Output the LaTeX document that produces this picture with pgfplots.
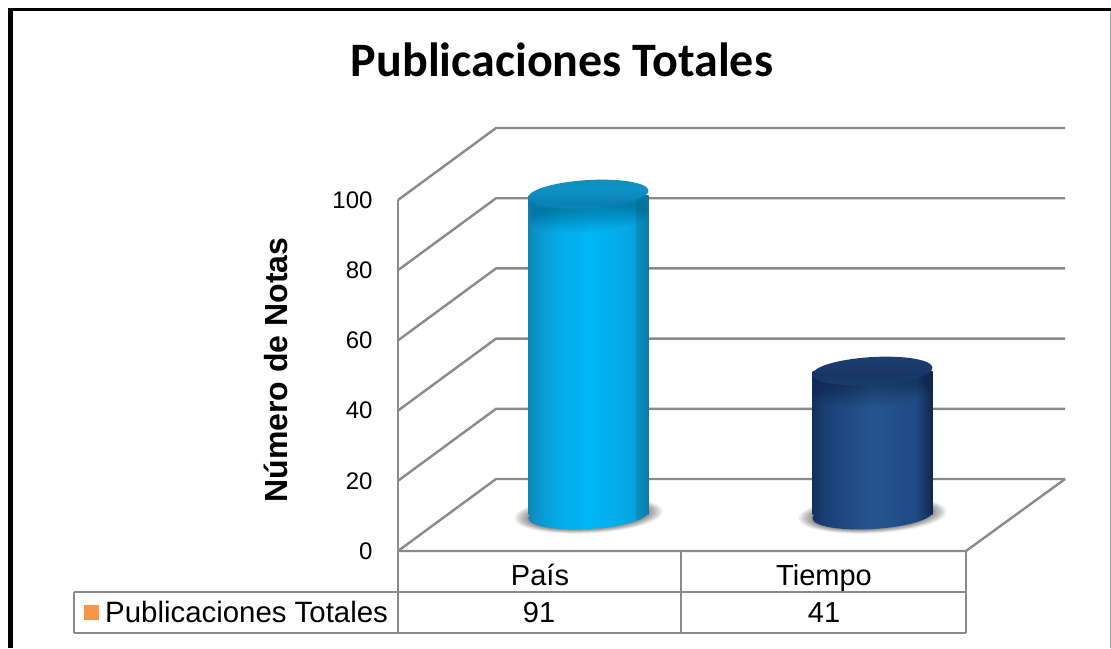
\documentclass[border=0pt]{standalone}
\usepackage{fontspec}
\setmainfont{Liberation Sans}
\newfontfamily\titlefont{Carlito}
\usepackage{pgfplots}
\pgfplotsset{compat=1.18}
\definecolor{gridg}{HTML}{8A8A8A}
\definecolor{swatch}{HTML}{F79646}
\definecolor{aa}{HTML}{0E86B8}\definecolor{ab}{HTML}{0B96CE}\definecolor{ac}{HTML}{04ACE8}\definecolor{ad}{HTML}{00B6F6}
\definecolor{ae}{HTML}{03ADEA}\definecolor{af}{HTML}{08A2DC}\definecolor{ag}{HTML}{0B8FC4}\definecolor{ah}{HTML}{0F7AA6}
\definecolor{ba}{HTML}{132F5E}\definecolor{bb}{HTML}{1A3F75}\definecolor{bc}{HTML}{25558F}\definecolor{bd}{HTML}{1F4A84}
\definecolor{be}{HTML}{173765}\definecolor{bf}{HTML}{11264F}
\definecolor{ta}{HTML}{0A86BC}\definecolor{tb}{HTML}{0A80B4}\definecolor{tc}{HTML}{0E93C8}\definecolor{td}{HTML}{178DB4}
\definecolor{ua}{HTML}{1A3C70}\definecolor{ub}{HTML}{173767}\definecolor{uc}{HTML}{1D3E70}
\pgfdeclarehorizontalshading{cylA}{100bp}{color(0bp)=(aa);color(25bp)=(aa);color(29bp)=(ab);color(38bp)=(ac);color(50bp)=(ad);color(62bp)=(ae);color(69bp)=(af);color(70bp)=(ag);color(75bp)=(ah);color(100bp)=(ah)}
\pgfdeclarehorizontalshading{cylB}{100bp}{color(0bp)=(ba);color(25bp)=(ba);color(30bp)=(bb);color(50bp)=(bc);color(68bp)=(bd);color(72bp)=(be);color(75bp)=(bf);color(100bp)=(bf)}
\pgfdeclareverticalshading{topA}{100bp}{color(0bp)=(ta);color(25bp)=(ta);color(35bp)=(tb);color(60bp)=(tc);color(75bp)=(td);color(100bp)=(td)}
\pgfdeclareverticalshading{topB}{100bp}{color(0bp)=(ua);color(25bp)=(ua);color(45bp)=(ub);color(75bp)=(uc);color(100bp)=(uc)}
% tilted ellipses as plot marks, placed at the data points
\newcommand{\tiltell}{\pgfpathellipse{\pgfpointorigin}{\pgfqpoint{60pt}{3.5pt}}{\pgfqpoint{-0.8pt}{14pt}}}
% soft darkening of the wall just below the top face
\newcommand{\topglow}{%
  \begin{pgfscope}\pgfsetfillopacity{0.025}\pgfsetfillcolor{black}%
  \foreach \d in {2,4,6,8,10,12,14,16,18,20,22}{%
    \begin{pgfscope}\pgftransformyshift{-\d pt}\tiltell\pgfusepath{fill}\end{pgfscope}}%
  \end{pgfscope}}
\pgfdeclareplotmark{topA}{\topglow\pgftransformyshift{1.5pt}\tiltell\pgfshadepath{topA}{0}\pgfusepath{discard}}
\pgfdeclareplotmark{topB}{\topglow\tiltell\pgfshadepath{topB}{0}\pgfusepath{discard}}
\pgfdeclareplotmark{baseA}{\tiltell\pgfshadepath{cylA}{0}\pgfusepath{discard}}
\pgfdeclareplotmark{baseB}{\tiltell\pgfshadepath{cylB}{0}\pgfusepath{discard}}
\pgfdeclareplotmark{shadow}{%
  \pgfsetfillopacity{0.065}\pgfsetfillcolor{black}%
  \foreach \r/\h in {74/18.5,72/17.5,70/17,68/16.5,66/16,64/15.5,62/15,61/14.5}{%
    \pgfpathellipse{\pgfqpoint{0pt}{0pt}}{\pgfqpoint{\r pt}{3.5pt}}{\pgfqpoint{-0.8pt}{\h pt}}\pgfusepath{fill}}}
\begin{document}
\begin{tikzpicture}
\path[use as bounding box,fill=white] (0,0) rectangle (1111pt,648pt);
\begin{axis}[
  at={(398pt,97pt)},anchor=south west,scale only axis,width=568pt,height=351pt,
  xmin=0,xmax=2,ymin=0,ymax=100,clip=false,
  axis x line=none,axis y line=left,
  axis line style={gridg,line width=2.4pt,-},
  ytick={0,20,40,60,80,100},
  major tick length=0pt,
  /pgf/number format/assume math mode=true,
  yticklabel style={font=\fontsize{24pt}{26pt}\selectfont,xshift=-22pt},
  ylabel={Número de Notas},
  every axis y label/.style={at={(axis description cs:-0.2148,0.516)},rotate=90,anchor=center,font=\bfseries\fontsize{32pt}{34pt}\selectfont},
  title={Publicaciones Totales},
  every axis title/.style={at={(axis description cs:0.2887,1.399)},anchor=center,font=\titlefont\bfseries\fontsize{48pt}{52pt}\selectfont},
]
\pgfplotsinvokeforeach{0,20,40,60,80,100}{
  \pgfmathsetmacro{\backy}{#1+20.5}
  \edef\tmp{\noexpand\addplot[gridg,line width=2.4pt,no marks] coordinates {(0,#1) (0.345,\backy) (2.3486,\backy)};}
  \tmp
}
\addplot[gridg,line width=2.4pt,no marks] coordinates {(0,0) (2,0) (2.3486,20.5)};
\end{axis}
% cylinders: same scale, set back on the floor. Marks are drawn above bars, so one axis per layer.
\begin{axis}[
  at={(446.5pt,133pt)},anchor=south west,scale only axis,width=568pt,height=351pt,
  xmin=0,xmax=2,ymin=0,ymax=100,clip=false,hide axis,
]
\addplot[only marks,mark=shadow] coordinates {(0.5,0) (1.5,0)};
\addplot[only marks,mark=baseA] coordinates {(0.5,0)};
\addplot[only marks,mark=baseB] coordinates {(1.5,0)};
\end{axis}
\begin{axis}[
  at={(446.5pt,133pt)},anchor=south west,scale only axis,width=568pt,height=351pt,
  xmin=0,xmax=2,ymin=0,ymax=100,clip=false,hide axis,
]
\addplot[ybar,bar width=120pt,bar shift=0pt,draw=none,shading=cylA] coordinates {(0.5,91)};
\addplot[ybar,bar width=120pt,bar shift=0pt,draw=none,shading=cylB] coordinates {(1.5,41)};
\addplot[only marks,mark=topA] coordinates {(0.5,91)};
\addplot[only marks,mark=topB] coordinates {(1.5,41)};
\end{axis}
\begin{scope}[shift={(0,648pt)},x=1pt,y=-1pt]
  % frame
  \fill[black] (8,8) rectangle (1111,11);
  \fill[black] (8,8) rectangle (13,648);
  \draw[gridg!70,line width=1pt] (1110.5,11) -- (1110.5,648);
  % data table
  \draw[gridg,line width=2.4pt] (74,592) -- (966,592);
  \draw[gridg,line width=2.4pt] (74,633) -- (966,633);
  \draw[gridg,line width=2.4pt] (74,592) -- (74,633);
  \draw[gridg,line width=2.4pt] (398,551) -- (398,633);
  \draw[gridg,line width=2.4pt] (681,551) -- (681,633);
  \draw[gridg,line width=2.4pt] (966,551) -- (966,633);
  \fill[swatch] (84,605) rectangle (99,620);
  \node[anchor=base west,inner sep=0pt,font=\fontsize{29.4pt}{32pt}\selectfont] at (105,622.5) {Publicaciones Totales};
  \node[anchor=base,inner sep=0pt,font=\fontsize{29pt}{32pt}\selectfont] at (540,586) {País};
  \node[anchor=base,inner sep=0pt,font=\fontsize{29pt}{32pt}\selectfont] at (824,586) {Tiempo};
  \node[anchor=base,inner sep=0pt,font=\fontsize{29pt}{32pt}\selectfont] at (539,622.5) {91};
  \node[anchor=base,inner sep=0pt,font=\fontsize{29pt}{32pt}\selectfont] at (824,622.5) {41};
\end{scope}
\end{tikzpicture}
\end{document}
